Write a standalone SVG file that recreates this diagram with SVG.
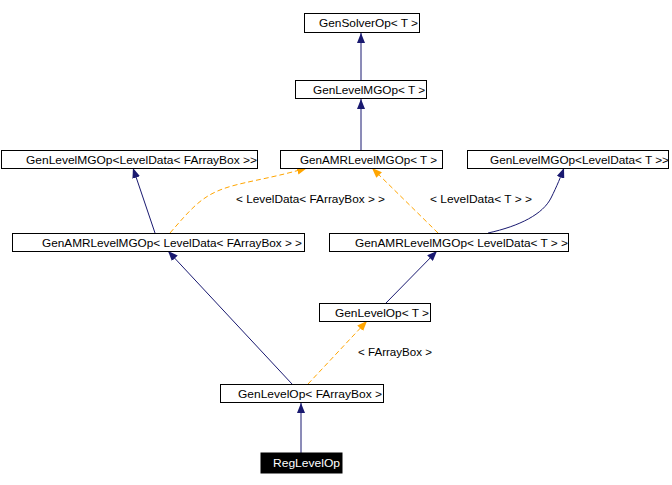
<svg xmlns="http://www.w3.org/2000/svg" width="672" height="485" viewBox="0 0 672 485">
<style>
.box{fill:#fff;stroke:#000;stroke-width:1}
.t{font-family:"Liberation Sans",Arial,sans-serif;font-size:11px;fill:#000}
.w{fill:#fff}
.inh{fill:none;stroke:#191970;stroke-width:1}
.tpl{fill:none;stroke:#ffa500;stroke-width:1;stroke-dasharray:5,3}
</style>
<defs>
<marker id="an" viewBox="0 0 10 8" refX="10" refY="4" markerWidth="10" markerHeight="8" markerUnits="userSpaceOnUse" orient="auto"><path d="M0,0 L10,4 L0,8 z" fill="#191970"/></marker>
<marker id="ao" viewBox="0 0 10 8" refX="10" refY="4" markerWidth="10" markerHeight="8" markerUnits="userSpaceOnUse" orient="auto"><path d="M0,0 L10,4 L0,8 z" fill="#ffa500"/></marker>
</defs>
<rect width="672" height="485" fill="#fff"/>
<g id="connectors">
<path class="inh" d="M361,80 L361,33" marker-end="url(#an)"/>
<path class="inh" d="M361,150 L361,99" marker-end="url(#an)"/>
<path class="inh" d="M155,233 L133,168" marker-end="url(#an)"/>
<path class="tpl" d="M170,233 C190,210 200,198 220,190 C240,182 265,180 307,168" marker-end="url(#ao)"/>
<path class="tpl" d="M438,233 L372,168" marker-end="url(#ao)"/>
<path class="inh" d="M488,233 C520,226 543,214 551,198 C557,186 561,176 564,168" marker-end="url(#an)"/>
<path class="inh" d="M386,303 L437,251" marker-end="url(#an)"/>
<path class="inh" d="M292,384 L168,251" marker-end="url(#an)"/>
<path class="tpl" d="M308,384 L367,321" marker-end="url(#ao)"/>
<path class="inh" d="M301,453 L301,403" marker-end="url(#an)"/>
<text class="t" x="236" y="203" textLength="149" lengthAdjust="spacingAndGlyphs">&lt; LevelData&lt; FArrayBox &gt; &gt;</text>
<text class="t" x="430" y="203" textLength="102" lengthAdjust="spacingAndGlyphs">&lt; LevelData&lt; T &gt; &gt;</text>
<text class="t" x="358" y="356" textLength="74" lengthAdjust="spacingAndGlyphs">&lt; FArrayBox &gt;</text>
</g>
<g id="GenSolverOp">
<rect class="box" x="304.5" y="13.5" width="115" height="19"/>
<text class="t" x="319" y="27" textLength="99" lengthAdjust="spacingAndGlyphs">GenSolverOp&lt; T &gt;</text>
</g>
<g id="GenLevelMGOp_T">
<rect class="box" x="295.5" y="80.5" width="131" height="18"/>
<text class="t" x="313" y="93.5" textLength="112" lengthAdjust="spacingAndGlyphs">GenLevelMGOp&lt; T &gt;</text>
</g>
<g id="GenLevelMGOp_LD_FAB">
<rect class="box" x="1.5" y="150.5" width="256" height="18"/>
<text class="t" x="26" y="163.5" textLength="231" lengthAdjust="spacingAndGlyphs">GenLevelMGOp&lt;LevelData&lt; FArrayBox &gt;&gt;</text>
</g>
<g id="GenAMRLevelMGOp_T">
<rect class="box" x="280.5" y="150.5" width="162" height="18"/>
<text class="t" x="300" y="163.5" textLength="137" lengthAdjust="spacingAndGlyphs">GenAMRLevelMGOp&lt; T &gt;</text>
</g>
<g id="GenLevelMGOp_LD_T">
<rect class="box" x="467.5" y="150.5" width="201" height="18"/>
<text class="t" x="490" y="163.5" textLength="179" lengthAdjust="spacingAndGlyphs">GenLevelMGOp&lt;LevelData&lt; T &gt;&gt;</text>
</g>
<g id="GenAMRLevelMGOp_LD_FAB">
<rect class="box" x="12.5" y="233.5" width="292" height="18"/>
<text class="t" x="42" y="246.5" textLength="260" lengthAdjust="spacingAndGlyphs">GenAMRLevelMGOp&lt; LevelData&lt; FArrayBox &gt; &gt;</text>
</g>
<g id="GenAMRLevelMGOp_LD_T">
<rect class="box" x="329.5" y="233.5" width="239" height="18"/>
<text class="t" x="355" y="246.5" textLength="213" lengthAdjust="spacingAndGlyphs">GenAMRLevelMGOp&lt; LevelData&lt; T &gt; &gt;</text>
</g>
<g id="GenLevelOp_T">
<rect class="box" x="319.5" y="303.5" width="111" height="18"/>
<text class="t" x="335" y="316.5" textLength="94" lengthAdjust="spacingAndGlyphs">GenLevelOp&lt; T &gt;</text>
</g>
<g id="GenLevelOp_FAB">
<rect class="box" x="220.5" y="384.5" width="163" height="18"/>
<text class="t" x="238" y="397.5" textLength="144" lengthAdjust="spacingAndGlyphs">GenLevelOp&lt; FArrayBox &gt;</text>
</g>
<g id="RegLevelOp">
<rect x="261" y="453" width="81" height="20" fill="#000" stroke="#000"/>
<text class="t w" x="273" y="467" textLength="67" lengthAdjust="spacingAndGlyphs">RegLevelOp</text>
</g>
</svg>
